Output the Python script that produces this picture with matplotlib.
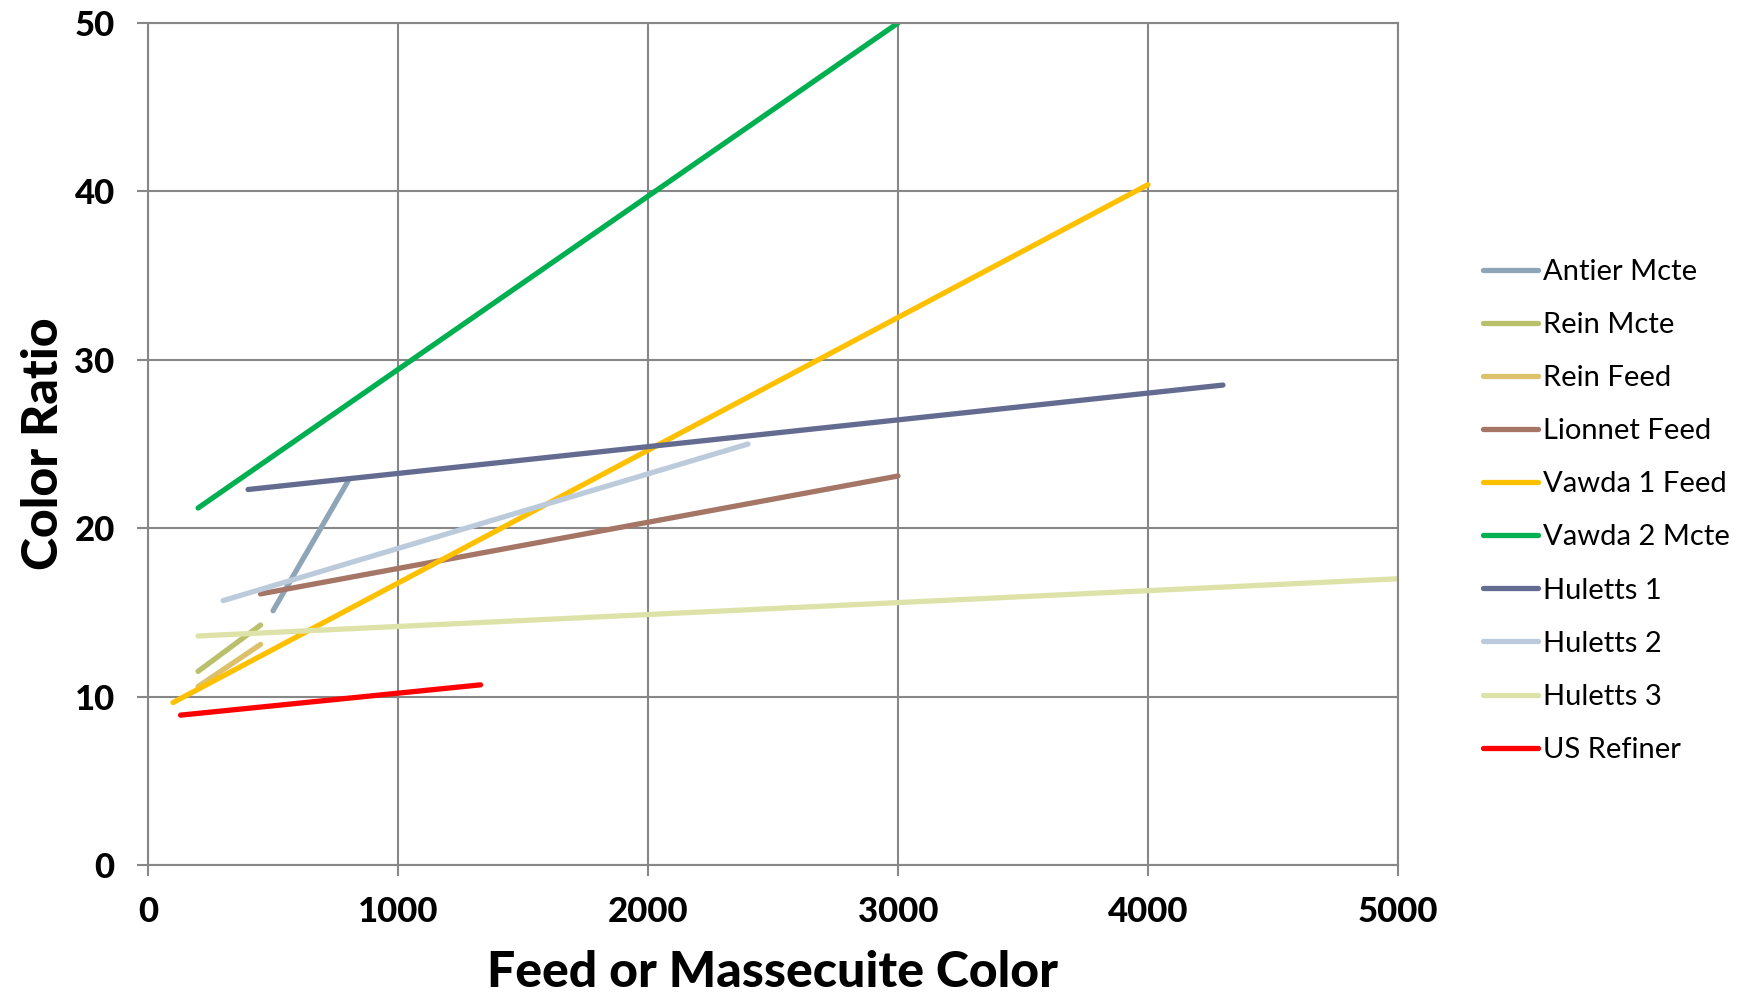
import matplotlib
matplotlib.use("Agg")
import matplotlib.pyplot as plt

plt.rcParams['font.family'] = ['Lato', 'DejaVu Sans']

# Trend lines: (feed colour, colour ratio) end points per series
series_names = ["Antier Mcte", "Rein Mcte", "Rein Feed", "Lionnet Feed",
                "Vawda 1 Feed", "Vawda 2 Mcte", "Huletts 1", "Huletts 2",
                "Huletts 3", "US Refiner"]
series_x = [
    [500, 800],
    [200, 450],
    [200, 450],
    [450, 3000],
    [100, 4000],
    [200, 3000],
    [400, 4300],
    [300, 2400],
    [200, 5000],
    [130, 1330],
]
series_y = [
    [15.1, 22.8],
    [11.5, 14.25],
    [10.6, 13.1],
    [16.1, 23.1],
    [9.65, 40.4],
    [21.2, 50.0],
    [22.3, 28.5],
    [15.7, 25.0],
    [13.6, 17.0],
    [8.9, 10.7],
]
series_colors = ["#8ea5b8", "#b8c06a", "#dcc06a", "#a57565", "#ffc000",
                 "#00b050", "#636b91", "#bccbdb", "#dde3a8", "#ff0000"]

x_ticks = [0, 1000, 2000, 3000, 4000, 5000]
y_ticks = [0, 10, 20, 30, 40, 50]

fig = plt.figure(figsize=(17.4, 9.92), dpi=100)
ax = fig.add_axes([0.0851, 0.128, 0.7183, 0.8488])

for name, xs, ys, c in zip(series_names, series_x, series_y, series_colors):
    ax.plot(xs, ys, color=c, lw=3.8, solid_capstyle='round', label=name)

ax.set_xlim(0, 5000)
ax.set_ylim(0, 50)
ax.set_xticks(x_ticks)
ax.set_yticks(y_ticks)
ax.set_xticklabels([str(v) for v in x_ticks], fontsize=25, fontweight='black')
ax.set_yticklabels([str(v) for v in y_ticks], fontsize=25, fontweight='black')

grid_c = "#878787"
ax.grid(True, color=grid_c, lw=1.5)
ax.set_axisbelow(True)
for s in ax.spines.values():
    s.set_color(grid_c)
    s.set_linewidth(1.5)
ax.tick_params(axis='both', direction='out', length=8, width=1.5, color=grid_c)
ax.tick_params(axis='y', pad=16)
ax.tick_params(axis='x', pad=14)

ax.set_xlabel("Feed or Massecuite Color", fontsize=36, fontweight='black',
              labelpad=16)
ax.set_ylabel("Color Ratio", fontsize=36, fontweight='black', labelpad=6)

leg = ax.legend(loc='upper left', bbox_to_anchor=(1.068, 0.72), frameon=False,
                fontsize=21, handlelength=1.9, handletextpad=0.15,
                labelspacing=0.93, borderaxespad=0, borderpad=0)

fig.savefig("out.png", dpi=100)
